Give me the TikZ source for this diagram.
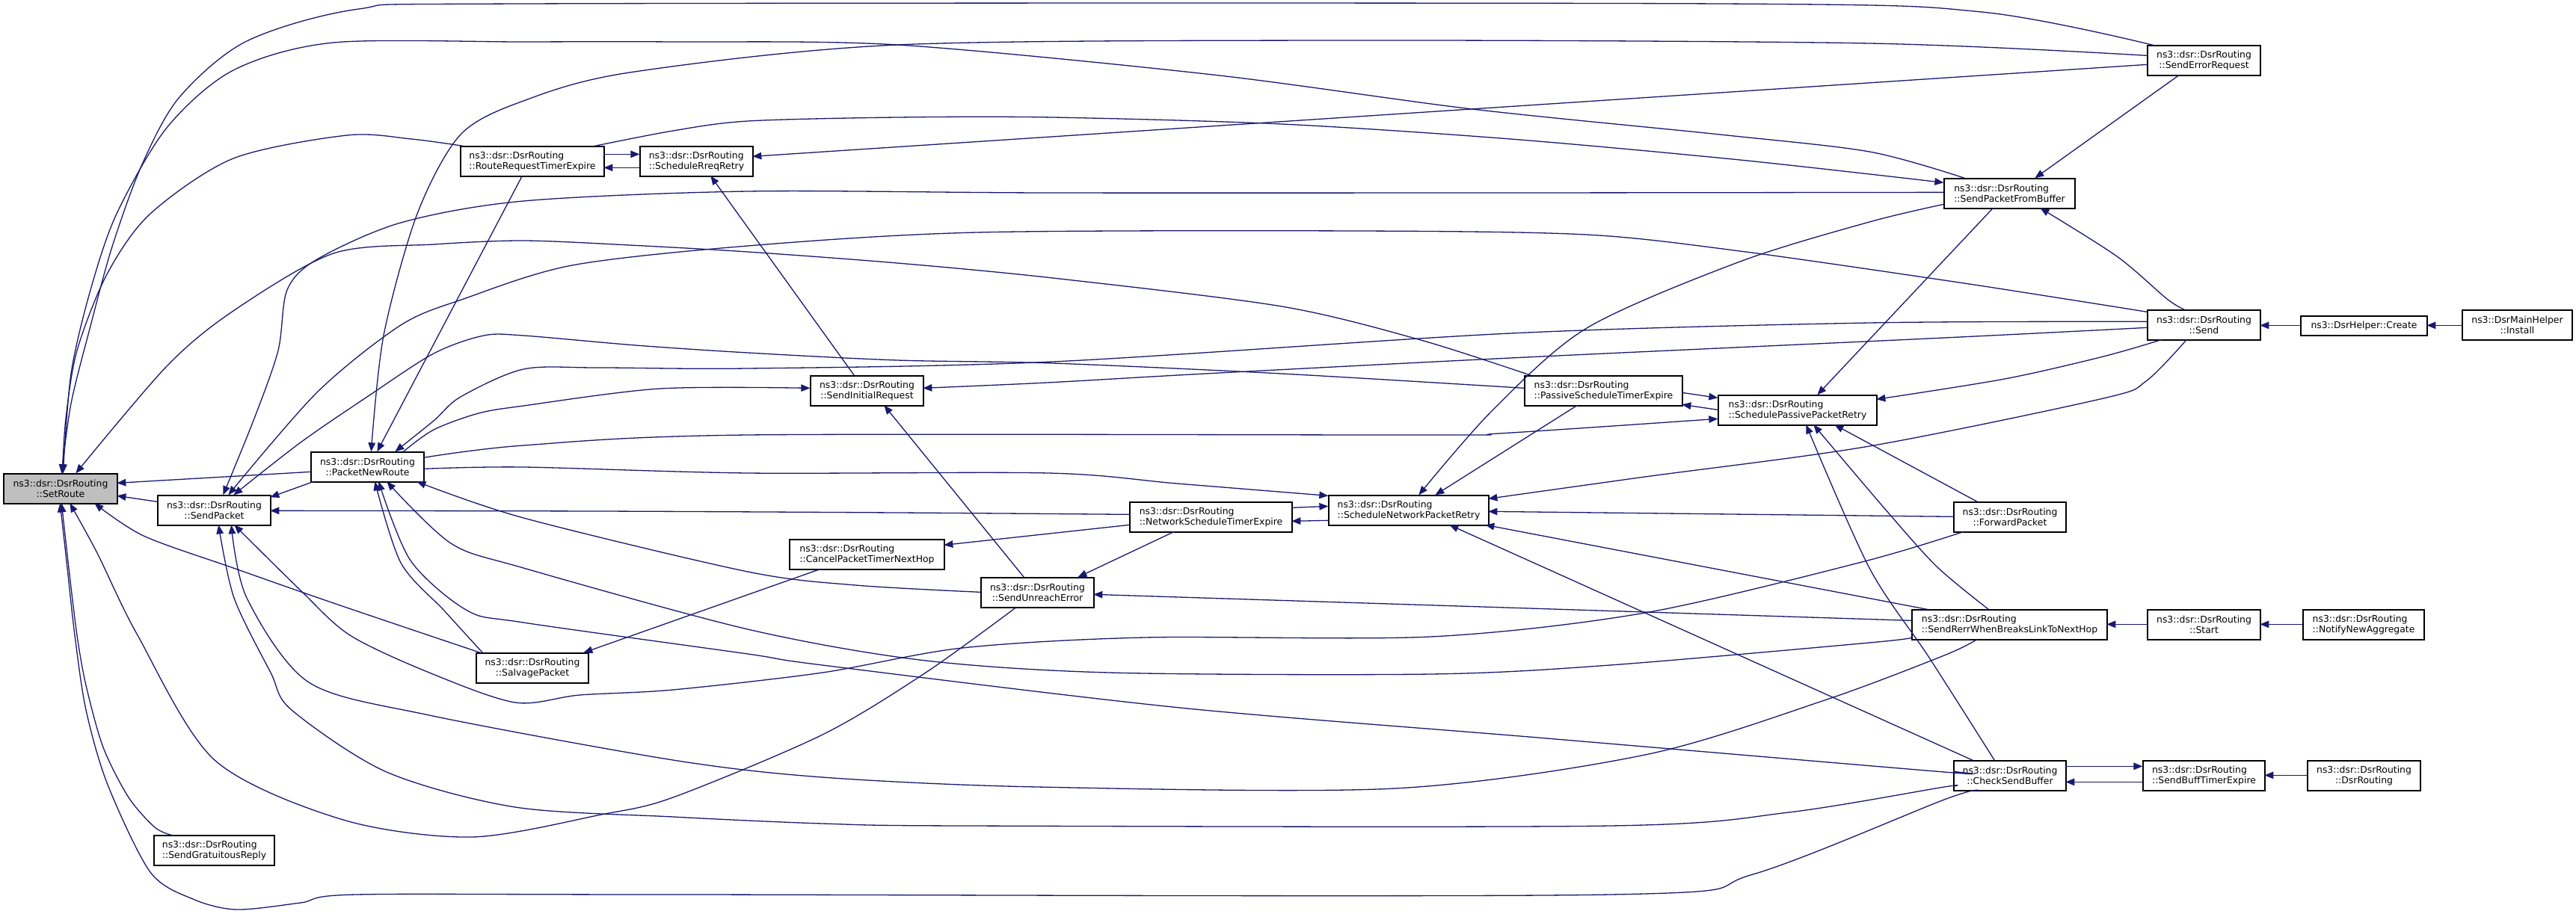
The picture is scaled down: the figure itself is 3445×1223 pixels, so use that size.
\documentclass[tikz,border=0pt]{standalone}
\usepackage{fontspec}
\setmainfont{DejaVu Sans}
\usetikzlibrary{arrows.meta}
\definecolor{navyc}{HTML}{191970}
\definecolor{grayc}{HTML}{BFBFBF}
\newcommand\twol[2]{%
  \setbox0=\hbox{#1}\setbox2=\hbox{#2}%
  \ifdim\wd0>\wd2 \dimen0=\wd0 \else \dimen0=\wd2 \fi
  \vbox{\hbox to\dimen0{\box0\hfil}\hbox to\dimen0{\hfil\box2\hfil}}}
\newcommand\dsrpre{ns3::dsr::DsrRouting}
\begin{document}
\begin{tikzpicture}[x=1pt,y=-1pt,
  fnode/.style={draw=black, line width=1.3pt, fill=white, minimum height=40pt, inner xsep=4pt, inner ysep=0pt,
     font=\fontsize{12.4pt}{14pt}\selectfont},
  cedge/.style={draw=navyc, line width=1.3pt, -{Triangle[length=12pt,width=9.5pt]}}]
\fill[white] (0,0) rectangle (3445,1223);
\useasboundingbox (0,0) rectangle (3445,1223);

% nodes
\node[fnode,fill=grayc,minimum width=152pt] (sr) at (81,654) {\twol{\dsrpre}{::SetRoute}};
\node[fnode,minimum width=151pt] (sp) at (286.5,683) {\twol{\dsrpre}{::SendPacket}};
\node[fnode,minimum width=151pt] (pnr) at (491.5,625) {\twol{\dsrpre}{::PacketNewRoute}};
\node[fnode,minimum width=192pt] (rrte) at (712,216) {\twol{\dsrpre}{::RouteRequestTimerExpire}};
\node[fnode,minimum width=151pt] (srr) at (931.5,216) {\twol{\dsrpre}{::ScheduleRreqRetry}};
\node[fnode,minimum width=151pt] (sir) at (1159.5,523) {\twol{\dsrpre}{::SendInitialRequest}};
\node[fnode,minimum width=207pt] (cptnh) at (1159.5,742) {\twol{\dsrpre}{::CancelPacketTimerNextHop}};
\node[fnode,minimum width=151pt] (sue) at (1387.5,793) {\twol{\dsrpre}{::SendUnreachError}};
\node[fnode,minimum width=217pt] (nste) at (1619.5,692) {\twol{\dsrpre}{::NetworkScheduleTimerExpire}};
\node[fnode,minimum width=150pt] (salv) at (712,894) {\twol{\dsrpre}{::SalvagePacket}};
\node[fnode,minimum width=161pt] (sgr) at (286.5,1138) {\twol{\dsrpre}{::SendGratuitousReply}};
\node[fnode,minimum width=214pt] (snpr) at (1884,683) {\twol{\dsrpre}{::ScheduleNetworkPacketRetry}};
\node[fnode,minimum width=211pt] (pste) at (2144.5,523) {\twol{\dsrpre}{::PassiveScheduleTimerExpire}};
\node[fnode,minimum width=212pt] (sppr) at (2404,549) {\twol{\dsrpre}{::SchedulePassivePacketRetry}};
\node[fnode,minimum width=151pt] (ser) at (2947.5,81) {\twol{\dsrpre}{::SendErrorRequest}};
\node[fnode,minimum width=175pt] (spfb) at (2687.5,259) {\twol{\dsrpre}{::SendPacketFromBuffer}};
\node[fnode,minimum width=151pt] (send) at (2947.5,435) {\twol{\dsrpre}{::Send}};
\node[fnode,minimum width=169pt,minimum height=26pt] (create) at (3161.5,436) {ns3::DsrHelper::Create};
\node[fnode,minimum width=147pt] (install) at (3366.5,435) {\twol{ns3::DsrMainHelper}{::Install}};
\node[fnode,minimum width=150pt] (fwd) at (2688,692) {\twol{\dsrpre}{::ForwardPacket}};
\node[fnode,minimum width=261pt] (srwb) at (2687.5,836) {\twol{\dsrpre}{::SendRerrWhenBreaksLinkToNextHop}};
\node[fnode,minimum width=151pt] (start) at (2947.5,836) {\twol{\dsrpre}{::Start}};
\node[fnode,minimum width=162pt] (nna) at (3161,836) {\twol{\dsrpre}{::NotifyNewAggregate}};
\node[fnode,minimum width=150pt] (csb) at (2688,1038) {\twol{\dsrpre}{::CheckSendBuffer}};
\node[fnode,minimum width=163pt] (sbte) at (2947.5,1038) {\twol{\dsrpre}{::SendBuffTimerExpire}};
\node[fnode,minimum width=151pt] (ctor) at (3161.5,1038) {\twol{\dsrpre}{::DsrRouting}};

% edges into SetRoute from above
\draw[cedge] plot[smooth] coordinates {([shift={(8,0)}]ser.north west) (2650,16) (2300,5) (700,5) (480,12) (330,55) (240,130) (190,220) (150,330) (120,440) (95,540) ([shift={(78,0)}]sr.north west)};
\draw[cedge] plot[smooth] coordinates {([shift={(28,0)}]spfb.north west) (2500,203) (2300,180) (1969,146) (1622,100) (1200,60) (900,56) (700,56) (446,57) (312,94) (223,171) (156,286) (121,388) (95,500) ([shift={(80,0)}]sr.north west)};
\draw[cedge] plot[smooth] coordinates {([shift={(4,0)}]rrte.north west) (550,186) (464,181) (312,212) (201,286) (143,367) (103,469) (88,560) ([shift={(79,0)}]sr.north west)};
\draw[cedge] plot[smooth] coordinates {([shift={(9,0)}]pste.north west) (1900,455) (1714,410) (1408,372) (1200,352) (1000,337) (842,328) (700,322) (580,327) (446,339) (312,416) (223,490) ([shift={(97,0)}]sr.north west)};

\draw[cedge] plot[smooth] coordinates {([shift={(0,14)}]ser.north west) (2500,58) (1800,54) (1200,60) (842,97) (700,135) (616,180) (558,286) (513,449) ([shift={(81,0)}]pnr.north west)};
\draw[cedge] ([shift={(0,26)}]ser.north west) -- ([shift={(151,14)}]srr.north west);
\draw[cedge] ([shift={(43,40)}]ser.north west) -- ([shift={(122,0)}]spfb.north west);
\draw[cedge] plot[smooth] coordinates {([shift={(0,19)}]spfb.north west) (2000,258) (1400,258) (1000,256) (700,269) (536,298) (424,347) (384,388) (372,469) (340,560) ([shift={(88,0)}]sp.north west)};
\draw[cedge] plot[smooth] coordinates {([shift={(0,35)}]spfb.north west) (2500,297) (2327,350) (2122,439) (1995,550) ([shift={(121,0)}]snpr.north west)};
\draw[cedge] ([shift={(66,40)}]spfb.north west) -- ([shift={(133,0)}]sppr.north west);
\draw[cedge] ([shift={(83,40)}]rrte.north west) -- ([shift={(89,0)}]pnr.north west);
\draw[cedge] ([shift={(192,11)}]rrte.north west) -- ([shift={(0,11)}]srr.north west);
\draw[cedge] ([shift={(0,29)}]srr.north west) -- ([shift={(192,29)}]rrte.north west);
\draw[cedge] plot[smooth] coordinates {([shift={(180,0)}]rrte.north west) (900,175) (1000,162) (1200,157) (1408,157) (1714,166) (2020,186) (2327,214) ([shift={(0,6)}]spfb.north west)};
\draw[cedge] plot[smooth] coordinates {([shift={(0,17)}]pste.north west) (1714,500) (1408,486) (1200,482) (1000,472) (850,462) (700,449) (647,449) (580,473) (491,531) (402,592) ([shift={(102,0)}]sp.north west)};
\draw[cedge] ([shift={(71,40)}]pste.north west) -- ([shift={(143,0)}]snpr.north west);
\draw[cedge] ([shift={(211,23)}]pste.north west) -- ([shift={(0,4)}]sppr.north west);
\draw[cedge] ([shift={(0,20)}]sppr.north west) -- ([shift={(211,39)}]pste.north west);
\draw[cedge] ([shift={(0,27)}]pnr.north west) -- ([shift={(152,13)}]sr.north west);
\draw[cedge] ([shift={(4,40)}]pnr.north west) -- ([shift={(151,3)}]sp.north west);
\draw[cedge] plot[smooth] coordinates {([shift={(124,0)}]pnr.north west) (580,575) (640,553) (700,543) (883,520) ([shift={(0,17)}]sir.north west)};
\draw[cedge] plot[smooth] coordinates {([shift={(151,8)}]pnr.north west) (700,596) (1000,582) (1918,582) (2005,580) ([shift={(0,32)}]sppr.north west)};
\draw[cedge] plot[smooth] coordinates {([shift={(151,23)}]pnr.north west) (700,625) (1000,633) (1402,633) (1574,647) ([shift={(0,1)}]snpr.north west)};
\draw[cedge] ([shift={(0,9)}]sp.north west) -- ([shift={(152,30)}]sr.north west);
\draw[cedge] plot[smooth] coordinates {([shift={(6,0)}]salv.north west) (446,807) (312,760) (192,717) ([shift={(122,40)}]sr.north west)};
\draw[cedge] plot[smooth] coordinates {([shift={(9,0)}]salv.north west) (594,817) (536,753) ([shift={(86,40)}]pnr.north west)};
\draw[cedge] plot[smooth] coordinates {([shift={(48,40)}]sue.north west) (1238,900) (1100,983) (900,1067) (804,1090) (631,1120) (459,1097) (287,1017) (184,850) (130,740) ([shift={(89,40)}]sr.north west)};
\draw[cedge] plot[smooth] coordinates {([shift={(0,20)}]sue.north west) (1144,783) (1000,765) (700,693) ([shift={(142,40)}]pnr.north west)};
\draw[cedge] ([shift={(58,0)}]sue.north west) -- ([shift={(99,40)}]sir.north west);
\draw[cedge] plot[smooth] coordinates {([shift={(24,0)}]sgr.north west) (207,1107) (172,1067) (138,1000) (115,917) (103,850) (92,760) ([shift={(78,40)}]sr.north west)};
\draw[cedge] plot[smooth] coordinates {([shift={(33,40)}]csb.north west) (2600,1070) (2344,1170) (2153,1197) (900,1197) (476,1197) (402,1208) (316,1217) (258,1203) (201,1167) (144,1050) (115,950) (100,850) (90,760) ([shift={(76,40)}]sr.north west)};
\draw[cedge] plot[smooth] coordinates {([shift={(0,35)}]csb.north west) (2600,1053) (2392,1087) (2153,1105) (1291,1105) (1100,1102) (900,1093) (689,1080) (517,1033) (390,950) (362,900) (313,800) ([shift={(82,40)}]sp.north west)};
\draw[cedge] plot[smooth] coordinates {([shift={(0,15)}]csb.north west) (2600,1033) (2057,987) (1578,947) (1100,890) (1000,875) (700,833) (625,817) (549,750) ([shift={(91,40)}]pnr.north west)};
\draw[cedge] ([shift={(26,0)}]csb.north west) -- ([shift={(162,40)}]snpr.north west);
\draw[cedge] plot[smooth] coordinates {([shift={(55,0)}]csb.north west) (2580,880) (2500,760) ([shift={(118,40)}]sppr.north west)};
\draw[cedge] ([shift={(150,8)}]csb.north west) -- ([shift={(0,8)}]sbte.north west);
\draw[cedge] ([shift={(0,29)}]sbte.north west) -- ([shift={(150,29)}]csb.north west);
\draw[cedge] ([shift={(0,20)}]ctor.north west) -- ([shift={(163,20)}]sbte.north west);
\draw[cedge] plot[smooth] coordinates {([shift={(50,0)}]send.north west) (2898,400) (2831,343) ([shift={(129,40)}]spfb.north west)};
\draw[cedge] plot[smooth] coordinates {([shift={(0,3)}]send.north west) (2762,400) (2600,375) (2327,336) (2122,314) (1816,309) (1306,311) (1000,329) (765,355) (620,400) (536,435) (424,525) ([shift={(95,0)}]sp.north west)};
\draw[cedge] plot[smooth] coordinates {([shift={(0,16)}]send.north west) (2500,432) (2020,446) (1408,484) (1000,493) (800,492) (700,494) (616,531) (580,563) ([shift={(113,0)}]pnr.north west)};
\draw[cedge] plot[smooth] coordinates {([shift={(0,24)}]send.north west) (2600,452) (2020,479) (1612,500) (1400,512) ([shift={(151,17)}]sir.north west)};
\draw[cedge] plot[smooth] coordinates {([shift={(20,40)}]send.north west) (2813,477) (2681,507) ([shift={(212,6)}]sppr.north west)};
\draw[cedge] plot[smooth] coordinates {([shift={(53,40)}]send.north west) (2870,510) (2813,533) (2500,597) (2200,638) ([shift={(214,5)}]snpr.north west)};
\draw[cedge] ([shift={(0,13)}]create.north west) -- ([shift={(151,21)}]send.north west);
\draw[cedge] ([shift={(0,21)}]install.north west) -- ([shift={(169,13)}]create.north west);
\draw[cedge] ([shift={(59,0)}]sir.north west) -- ([shift={(95,40)}]srr.north west);
\draw[cedge] plot[smooth] coordinates {([shift={(0,17)}]nste.north west) (1200,686) (800,684) ([shift={(151,21)}]sp.north west)};
\draw[cedge] ([shift={(0,31)}]nste.north west) -- ([shift={(207,8)}]cptnh.north west);
\draw[cedge] ([shift={(60,40)}]nste.north west) -- ([shift={(130,0)}]sue.north west);
\draw[cedge] ([shift={(217,8)}]nste.north west) -- ([shift={(0,15)}]snpr.north west);
\draw[cedge] ([shift={(0,34)}]snpr.north west) -- ([shift={(217,26)}]nste.north west);
\draw[cedge] ([shift={(42,40)}]cptnh.north west) -- ([shift={(144,0)}]salv.north west);
\draw[cedge] plot[smooth] coordinates {([shift={(14,40)}]fwd.north west) (2490,752) (2200,820) (1913,852) (1531,853) (1287,867) (1100,900) (900,923) (775,930) (689,940) (574,900) (468,850) (402,790) ([shift={(103,40)}]sp.north west)};
\draw[cedge] ([shift={(32,0)}]fwd.north west) -- ([shift={(156,40)}]sppr.north west);
\draw[cedge] ([shift={(0,20)}]fwd.north west) -- ([shift={(214,22)}]snpr.north west);
\draw[cedge] plot[smooth] coordinates {([shift={(103,0)}]srwb.north west) (2590,758) (2520,680) ([shift={(128,40)}]sppr.north west)};
\draw[cedge] ([shift={(21,0)}]srwb.north west) -- ([shift={(210,40)}]snpr.north west);
\draw[cedge] ([shift={(0,15)}]srwb.north west) -- ([shift={(151,23)}]sue.north west);
\draw[cedge] plot[smooth] coordinates {([shift={(88,40)}]srwb.north west) (2600,877) (2440,937) (2200,1010) (1865,1055) (1387,1053) (1100,1040) (900,1017) (574,957) (413,913) (330,800) ([shift={(99,40)}]sp.north west)};
\draw[cedge] plot[smooth] coordinates {([shift={(0,38)}]srwb.north west) (2500,860) (2153,890) (1913,902) (1483,900) (1230,883) (1000,842) (700,760) (603,727) ([shift={(102,40)}]pnr.north west)};
\draw[cedge] ([shift={(0,20)}]start.north west) -- ([shift={(261,20)}]srwb.north west);
\draw[cedge] ([shift={(0,20)}]nna.north west) -- ([shift={(151,20)}]start.north west);
\end{tikzpicture}
\end{document}
